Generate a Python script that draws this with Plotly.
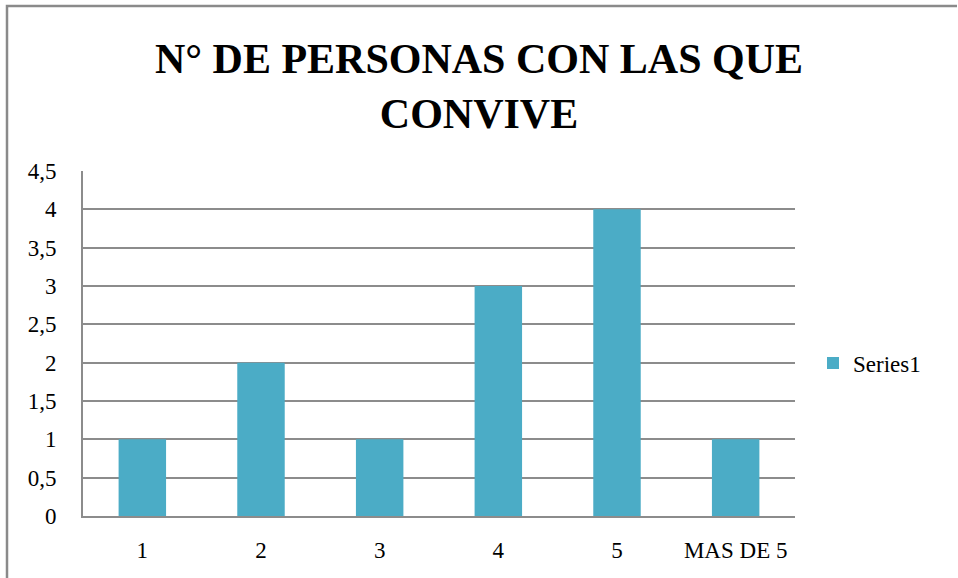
import plotly.graph_objects as go

categories = ["1", "2", "3", "4", "5", "MAS DE 5"]
values = [1, 2, 1, 3, 4, 1]
series_name = "Series1"
title_text = "N° DE PERSONAS CON LAS QUE<br>CONVIVE"

W, H = 958, 578
L, R, T, B = 83, 163, 171, 62
pw, ph = W - L - R, H - T - B


def px_x(x):
    return (x - L) / pw


def px_y(y):
    return (H - B - y) / ph


fig = go.Figure()
fig.add_trace(go.Bar(x=categories, y=values, name=series_name,
                     marker=dict(color="#4BACC6", line=dict(width=0))))

fig.update_layout(
    width=W, height=H,
    margin=dict(l=L, r=R, t=T, b=B),
    paper_bgcolor="white", plot_bgcolor="white",
    font=dict(family="Liberation Serif", size=23, color="black"),
    separators=",.",
    bargap=0.6,
    showlegend=True,
    title=dict(text="<b>" + title_text + "</b>", x=0.5, xanchor="center",
               y=1 - 73 / H, yanchor="middle",
               font=dict(family="Liberation Serif", size=42, color="black")),
    legend=dict(x=px_x(813), y=px_y(363), xanchor="left", yanchor="middle",
                font=dict(size=23), itemwidth=30),
)
fig.update_xaxes(showgrid=False, showline=True, linecolor="#8c8c8c", linewidth=2,
                 ticks="", ticklabelstandoff=12)
fig.update_yaxes(range=[0, 4.5], dtick=0.5, showgrid=True, gridcolor="#8c8c8c",
                 gridwidth=1.5, showline=True, linecolor="#8c8c8c", linewidth=2,
                 zeroline=False, ticks="", ticklabelstandoff=20)

# outer chart border (left and top edges visible)
fig.add_shape(type="path", xref="paper", yref="paper",
              path=f"M {px_x(7)} {px_y(H + 5)} L {px_x(7)} {px_y(6)} L {px_x(957)} {px_y(6)}",
              line=dict(color="#8a8a8a", width=2.5))

fig.write_html("out.html", config={"displayModeBar": False},
               post_script="document.body.style.margin='0';")
